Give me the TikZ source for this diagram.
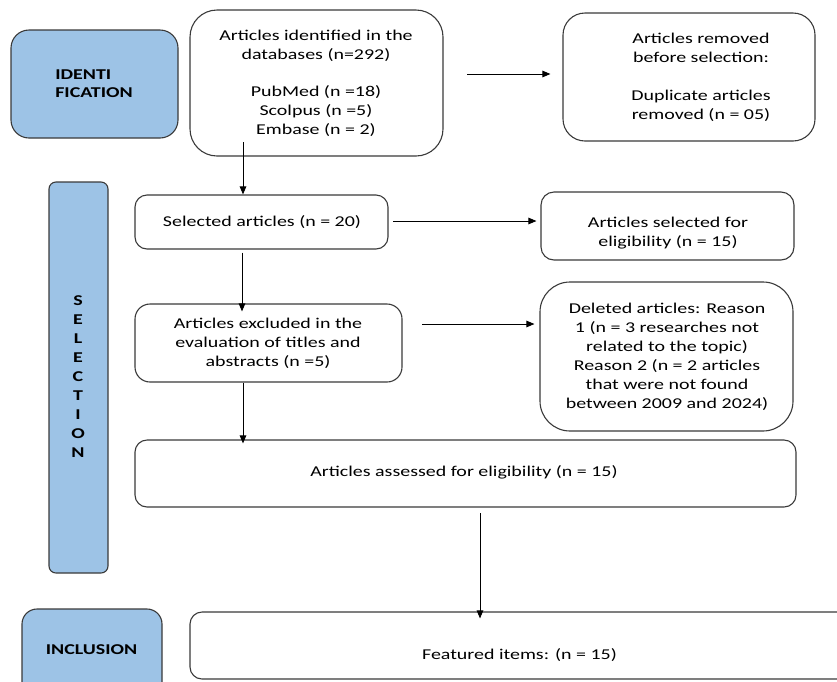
\documentclass[tikz,border=0pt]{standalone}
\usepackage{fontspec}
\setmainfont{Carlito}[FakeStretch=1.33]
\usetikzlibrary{arrows.meta}
\definecolor{blu}{HTML}{9DC3E6}
\definecolor{edge}{HTML}{3A3A3A}
\begin{document}
\begin{tikzpicture}[x=1pt,y=-1pt,
  box/.style={draw=edge, line width=1.1pt, fill=white, inner sep=0pt, rectangle},
  phase/.style={draw=edge, line width=1.1pt, fill=blu, inner sep=0pt, rectangle},
  txt/.style={align=center, font=\fontsize{15}{19}\selectfont, text=black, inner sep=0pt},
  btxt/.style={align=left, font=\fontsize{15}{18}\selectfont\bfseries, text=black, inner sep=0pt},
  arr/.style={draw=black, line width=1pt, -{Triangle[length=8pt,width=6.5pt]}}
]
\useasboundingbox (0,0) rectangle (837,681);
\clip (0,0) rectangle (837,681);

% phase boxes
\node[phase, rounded corners=18pt, minimum width=167pt, minimum height=108pt] (ident) at (94.5,84) {};
\node[phase, rounded corners=7pt, minimum width=59pt, minimum height=391pt] (selection) at (78.5,377.5) {};
\node[phase, rounded corners=15pt, minimum width=140pt, minimum height=92pt] (inclusion) at (92,655) {};

\node[btxt] (identT) at (94,84) {IDENTI\\FICATION};
\node[btxt, align=center, font=\fontsize{15}{19}\selectfont\bfseries] (selT) at (78,377) {S\\E\\L\\E\\C\\T\\I\\O\\N};
\node[btxt] (inclT) at (91.5,650) {INCLUSION};

% content boxes
\node[box, rounded corners=27pt, minimum width=253pt, minimum height=146pt] (A) at (316.5,83) {};
\node[box, rounded corners=22pt, minimum width=252pt, minimum height=128pt] (removed) at (689,77) {};
\node[box, rounded corners=12pt, minimum width=253pt, minimum height=54pt] (sel) at (261.5,222) {};
\node[box, rounded corners=13pt, minimum width=253pt, minimum height=68pt] (elig) at (667.5,226) {};
\node[box, rounded corners=15pt, minimum width=267pt, minimum height=78pt] (excl) at (268.5,343) {};
\node[box, rounded corners=30pt, minimum width=253pt, minimum height=149pt] (del) at (666.5,356.5) {};
\node[box, rounded corners=12pt, minimum width=661pt, minimum height=67pt] (assessed) at (465.5,473.5) {};
\node[box, rounded corners=12pt, minimum width=670pt, minimum height=67pt] (featured) at (525,645.5) {};

% texts
\node[txt] (AT) at (316,83) {Articles identified in the\\databases (n=292)\\[18pt]PubMed (n =18)\\Scolpus (n =5)\\Embase (n = 2)};
\node[txt] (removedT) at (701,77) {Articles removed\\before selection:\\[19pt]Duplicate articles\\removed (n = 05)};
\node[txt] (selT2) at (262,222) {Selected articles (n = 20)};
\node[txt] (eligT) at (668,233.5) {Articles selected for\\eligibility (n = 15)};
\node[txt] (exclT) at (268,343.5) {Articles excluded in the\\evaluation of titles and\\abstracts (n =5)};
\node[txt] (delT) at (667,357) {Deleted articles: Reason\\1 (n = 3 researches not\\related to the topic)\\Reason 2 (n = 2 articles\\that were not found\\between 2009 and 2024)};
\node[txt] (assessedT) at (464,472) {Articles assessed for eligibility (n = 15)};
\node[txt] (featuredT) at (519.5,655) {Featured items: (n = 15)};

% connectors
\coordinate (a1) at (243,142);
\coordinate (a2) at (467,74);
\coordinate (a3) at (393,221);
\coordinate (a4) at (422,324);
\coordinate (a5) at (480,513);
\draw[arr] (a1) -- (sel.north -| a1);
\draw[arr] (a2) -- ([xshift=-12pt]removed.west |- a2);
\draw[arr] (a3) -- ([xshift=-4pt]elig.west |- a3);
\draw[arr] (sel.south -| 242,0) ++(0,3) -- ([yshift=-8pt]excl.north -| 242,0);
\draw[arr] (a4) -- ([xshift=-5pt]del.west |- a4);
\draw[arr] (excl.south -| 243,0) -- ([yshift=-4pt]assessed.north -| 243,0);
\draw[arr] (a5) -- ([yshift=-7pt]featured.north -| a5);
\end{tikzpicture}
\end{document}
